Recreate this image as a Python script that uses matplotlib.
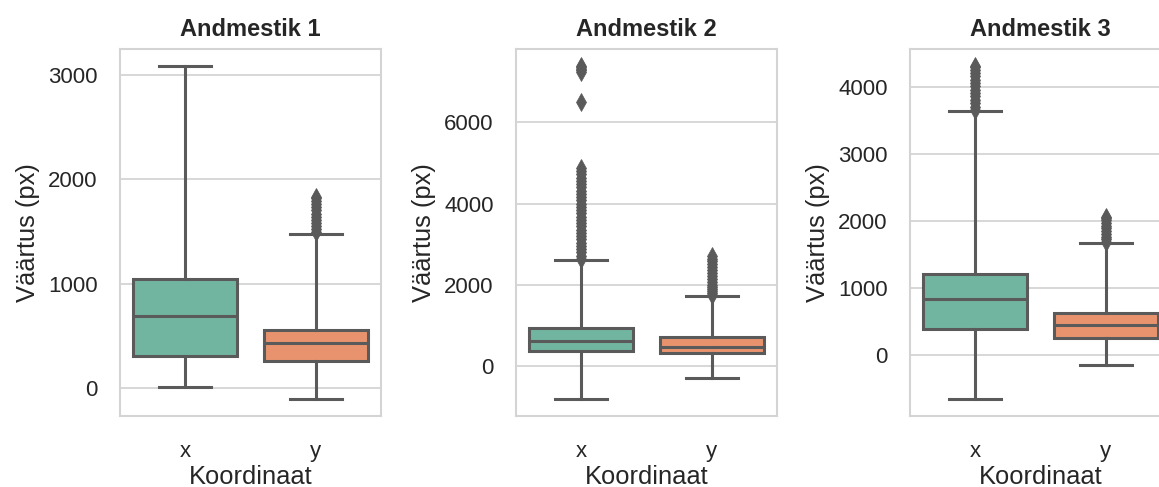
import matplotlib
matplotlib.use("Agg")
import matplotlib.pyplot as plt

plt.rcParams['font.family'] = ['Liberation Sans', 'DejaVu Sans']

# box statistics, one dataset per panel
titles = ["Andmestik 1", "Andmestik 2", "Andmestik 3"]
coords = ["x", "y"]
yticks = [[0, 1000, 2000, 3000], [0, 2000, 4000, 6000], [0, 1000, 2000, 3000, 4000]]

whislo = [[5, -109], [-824, -288], [-660, -149]]
q1 = [[303, 262], [355, 314], [384, 260]]
med = [[686, 431], [618, 455], [842, 443]]
q3 = [[1044, 558], [924, 702], [1215, 622]]
whishi = [[3087, 1478], [2614, 1731], [3642, 1677]]

fliers = [
    [[],
     [1490, 1520, 1550, 1580, 1610, 1640, 1670, 1700, 1730, 1760, 1790, 1820, 1830]],
    [[2640, 2720, 2800, 2880, 2960, 3040, 3120, 3200, 3280, 3360, 3440, 3520,
      3600, 3680, 3760, 3840, 3920, 4000, 4080, 4160, 4240, 4320, 4400, 4480,
      4560, 4640, 4720, 4800, 4870, 6510, 7250, 7290, 7330, 7370, 7400],
     [1750, 1800, 1850, 1900, 1950, 2000, 2060, 2130, 2210, 2290, 2370, 2440,
      2510, 2580, 2640, 2700]],
    [[3660, 3710, 3760, 3810, 3860, 3910, 3960, 4010, 4060, 4110, 4160, 4210,
      4260, 4300, 4320],
     [1690, 1730, 1770, 1810, 1850, 1890, 1930, 1970, 2010, 2040, 2060]],
]

colors = ["#71b5a0", "#e8936e"]
gray = "#5a5a5a"
grid_c = "#d4d4d4"

fig = plt.figure(figsize=(11.59, 4.87), dpi=100)
lefts = [120, 516, 910]
for i in range(3):
    ax = fig.add_axes([lefts[i] / 1159, 71 / 487, 261 / 1159, 367 / 487])
    stats = []
    for j in range(2):
        stats.append(dict(med=med[i][j], q1=q1[i][j], q3=q3[i][j],
                          whislo=whislo[i][j], whishi=whishi[i][j],
                          fliers=fliers[i][j]))
    bp = ax.bxp(stats, positions=[0, 1], widths=0.8, capwidths=0.4,
                patch_artist=True, showfliers=True,
                boxprops=dict(edgecolor=gray, linewidth=2.2),
                medianprops=dict(color=gray, linewidth=2.2),
                whiskerprops=dict(color=gray, linewidth=2.2),
                capprops=dict(color=gray, linewidth=2.2),
                flierprops=dict(marker='d', markersize=9, markerfacecolor=gray,
                                markeredgecolor=gray, markeredgewidth=0.5))
    for patch, c in zip(bp['boxes'], colors):
        patch.set_facecolor(c)
    for b in bp['boxes'] + bp['medians'] + bp['whiskers'] + bp['caps']:
        b.set_zorder(3)

    ax.set_xlim(-0.5, 1.5)
    ax.set_xticks([0, 1])
    ax.set_xticklabels(coords)
    ax.margins(y=0.05)
    ax.set_yticks(yticks[i])
    ax.yaxis.grid(True, color=grid_c, linewidth=1.3, zorder=0)
    ax.set_axisbelow(True)
    for s in ax.spines.values():
        s.set_color(grid_c)
        s.set_linewidth(1.5)
    ax.tick_params(axis='both', length=0, labelsize=16, colors="#262626")
    ax.tick_params(axis='y', pad=16)
    ax.tick_params(axis='x', pad=18)
    ax.set_title(titles[i], fontsize=17, fontweight='bold', color="#262626", pad=9)
    ax.set_xlabel("Koordinaat", fontsize=18.4, color="#262626", labelpad=2)
    ax.set_ylabel("Väärtus (px)", fontsize=18.4, color="#262626", labelpad=6)

fig.savefig("out.png", dpi=100)
